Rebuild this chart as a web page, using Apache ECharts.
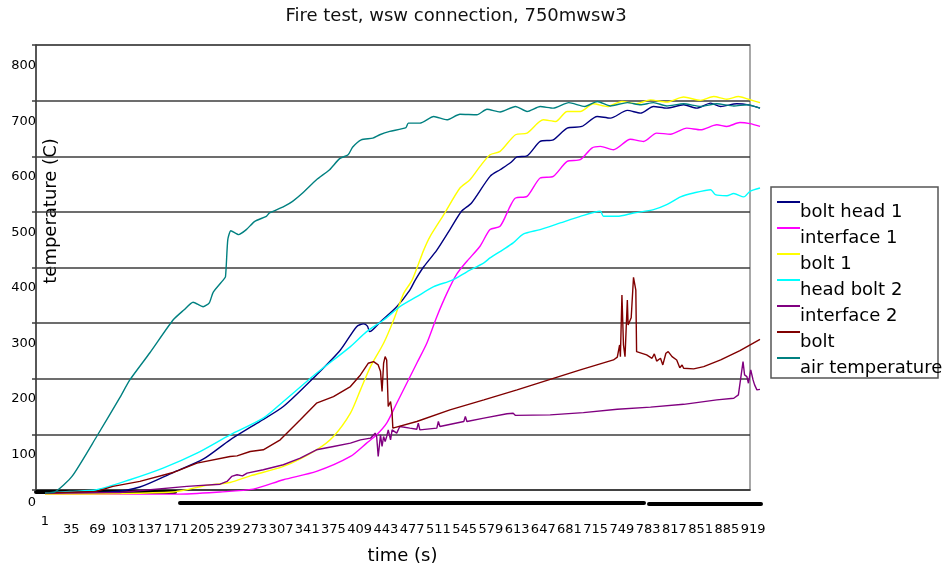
<!DOCTYPE html>
<html><head><meta charset="utf-8">
<script src="https://cdn.jsdelivr.net/npm/echarts@6/dist/echarts.min.js"></script>
<style>html,body{margin:0;padding:0;background:#fff}#c{width:948px;height:571px}</style>
</head><body><div id="c"></div>
<script>
const FONT = 'DejaVu Sans';
const titleText = 'Fire test, wsw connection, 750mwsw3';
const xName = 'time (s)';
const yName = 'temperature (C)';
const xLabelStep = 34;          // time labels 1, 35, 69 ... 919
const xMaxIndex = 927;          // last sample (time 928)
const yMax = 800, yStep = 100;  // tick labels 0 ... 800

const seriesNames = ['bolt head 1','interface 1','bolt 1','head bolt 2','interface 2','bolt','air temperature'];
const seriesColors = ['#000080','#FF00FF','#FFFF00','#00FFFF','#800080','#800000','#008080'];
const seriesSmooth = [0.25, 0.25, 0.25, 0.25, 0, 0, 0.2];

// [time (s), temperature]
const boltHead1 = [[1,30],[85,32],[124,41],[167,67],[206,91],[241,126],[276,156],[310,186],[353,243],[384,288],[405,330],[414,335],[419,331],[422,321],[436,339],[457,366],[474,396],[481,414],[492,438],[509,468],[526,505],[541,538],[554,553],[578,601],[591,613],[604,625],[613,636],[626,638],[643,664],[660,667],[678,688],[697,691],[717,709],[734,706],[756,720],[773,715],[790,727],[807,724],[829,730],[846,724],[864,733],[877,727],[898,732],[913,730],[928,724]];
const interface1 = [[1,28],[172,28],[228,32],[271,37],[310,54],[353,69],[397,96],[418,120],[431,135],[444,156],[457,192],[470,228],[483,264],[496,300],[509,348],[522,390],[535,425],[548,448],[565,475],[578,505],[591,511],[604,547],[611,562],[626,565],[643,598],[660,601],[678,628],[695,631],[710,652],[721,655],[738,649],[760,668],[777,664],[794,679],[812,677],[833,688],[851,685],[872,694],[885,691],[902,698],[915,696],[928,691]];
const bolt1 = [[1,28],[167,32],[211,44],[241,49],[267,61],[310,78],[353,108],[375,132],[397,174],[410,216],[423,258],[440,300],[453,342],[466,390],[477,414],[492,468],[500,492],[518,532],[539,580],[552,595],[565,619],[578,640],[591,646],[611,676],[626,679],[647,703],[663,700],[678,718],[695,718],[712,732],[730,727],[749,736],[768,732],[786,739],[807,735],[829,744],[851,738],[868,745],[885,740],[900,745],[913,740],[928,734]];
const headBolt2 = [[1,30],[33,33],[68,36],[111,54],[154,75],[198,102],[241,135],[284,165],[310,195],[353,246],[397,294],[418,321],[440,342],[461,366],[483,384],[505,402],[529,414],[548,429],[570,445],[578,454],[595,469],[608,481],[621,497],[643,505],[669,517],[695,529],[721,538],[725,529],[743,529],[764,535],[790,541],[807,550],[825,564],[842,571],[864,577],[870,568],[885,566],[894,570],[907,564],[915,574],[928,580]];
const interface2 = [[1,30],[98,31],[185,42],[228,46],[237,51],[243,60],[250,63],[257,61],[263,66],[284,72],[310,81],[332,93],[353,108],[375,114],[397,120],[410,126],[423,129],[429,138],[431,132],[433,96],[436,135],[438,114],[440,132],[442,123],[444,132],[446,144],[449,126],[451,144],[457,138],[461,150],[474,147],[483,145],[485,156],[487,144],[509,147],[511,159],[513,150],[544,159],[546,168],[548,159],[570,165],[600,173],[608,174],[611,170],[656,171],[699,175],[743,181],[786,185],[829,190],[872,198],[894,201],[900,207],[902,210],[906,267],[908,243],[911,240],[913,228],[916,252],[919,234],[921,225],[924,216],[928,217]];
const bolt = [[1,30],[68,33],[89,42],[124,51],[167,67],[198,84],[241,96],[250,97],[267,105],[284,108],[306,126],[332,162],[353,192],[375,204],[397,222],[410,243],[420,264],[427,267],[433,261],[436,249],[438,213],[440,264],[442,276],[444,270],[446,186],[449,195],[451,174],[452,147],[483,159],[526,180],[570,198],[613,216],[656,235],[695,252],[738,270],[743,275],[746,297],[747,276],[749,387],[751,297],[753,276],[756,378],[757,333],[761,346],[764,419],[767,396],[768,285],[781,279],[788,273],[791,281],[794,268],[799,273],[802,261],[806,282],[809,285],[814,276],[820,270],[824,256],[827,261],[829,255],[842,254],[855,258],[877,270],[902,287],[928,307]];
const airTemperature = [[1,30],[14,32],[36,60],[68,132],[98,202],[111,234],[137,283],[167,342],[181,360],[193,374],[206,366],[214,373],[219,392],[232,414],[235,420],[238,487],[242,503],[252,496],[262,505],[273,520],[288,529],[292,535],[311,547],[322,556],[335,571],[353,595],[370,613],[383,633],[394,640],[400,654],[411,667],[426,670],[435,676],[448,682],[469,689],[472,697],[487,697],[505,709],[522,703],[539,713],[561,712],[574,722],[591,717],[611,727],[626,718],[643,727],[660,724],[680,734],[701,727],[717,736],[734,728],[756,734],[773,730],[790,734],[807,728],[829,732],[851,727],[872,732],[894,728],[911,730],[928,724]];

const seriesData = [boltHead1, interface1, bolt1, headBolt2, interface2, bolt, airTemperature];

const chart = echarts.init(document.getElementById('c'), null, {renderer: 'canvas'});
const dark = '#3c3c3c';
const bandAxis = (gi) => ({gridIndex: gi, type: 'value', min: 0, max: 1,
  axisLine: {show: true, lineStyle: {color: '#000', width: 4, type: [2, 1]}},
  axisTick: {show: false}, axisLabel: {show: false}, splitLine: {show: false}});
const hiddenY = (gi) => ({gridIndex: gi, type: 'value', show: false});

chart.setOption({
  animation: false,
  backgroundColor: '#fff',
  title: {text: titleText, left: 456, top: 7, textAlign: 'center', padding: 0,
    textStyle: {fontSize: 18, fontWeight: 'normal', color: '#111', fontFamily: FONT}},
  grid: [
    {left: 36, top: 45, width: 714, height: 445, show: true, borderColor: '#8c8c8c', borderWidth: 1.5},
    {left: 45, top: 66, width: 715, height: 443.7},
    {left: 36, top: 488, width: 139, height: 4},
    {left: 180, top: 498.6, width: 465, height: 4},
    {left: 649, top: 499.9, width: 112, height: 4}
  ],
  xAxis: [
    {gridIndex: 0, type: 'value', min: 0, max: 1,
      axisLine: {show: true, onZero: false, lineStyle: {color: dark, width: 1.5}},
      axisTick: {show: false}, axisLabel: {show: false}, splitLine: {show: false}},
    {gridIndex: 1, type: 'value', min: 0, max: xMaxIndex, interval: xLabelStep,
      axisLine: {show: false}, axisTick: {show: false}, splitLine: {show: false},
      axisLabel: {margin: 5, color: '#000', fontSize: 13, fontFamily: FONT, hideOverlap: false,
        formatter: v => (v % xLabelStep !== 0) ? '' : (v === 0 ? '{f|1}' : '{n|' + (v + 1) + '}'),
        rich: {f: {fontSize: 13, fontFamily: FONT, color: '#000', padding: [0, 0, 0, 0]},
               n: {fontSize: 13, fontFamily: FONT, color: '#000', padding: [8, 0, 0, 0]}}},
      name: xName, nameLocation: 'middle', nameGap: 38,
      nameTextStyle: {fontSize: 18, color: '#000', fontFamily: FONT}},
    bandAxis(2), bandAxis(3), bandAxis(4)
  ],
  yAxis: [
    {gridIndex: 0, type: 'value', min: 0, max: 8, interval: 1,
      axisLine: {show: true, lineStyle: {color: dark, width: 1.5}},
      axisTick: {show: true, length: 4, lineStyle: {color: dark, width: 1.5}},
      axisLabel: {show: false},
      splitLine: {show: true, lineStyle: {color: dark, width: 1.5}}},
    {gridIndex: 1, type: 'value', min: 0, max: yMax, interval: yStep,
      axisLine: {show: false}, axisTick: {show: false}, splitLine: {show: false},
      axisLabel: {margin: 9, color: '#000', fontSize: 13, fontFamily: FONT,
        formatter: v => v === 0 ? '{z|0}' : '{n|' + v + '}',
        rich: {z: {fontSize: 13, fontFamily: FONT, color: '#000', padding: [0, 0, 15, 0]},
               n: {fontSize: 13, fontFamily: FONT, color: '#000'}}}},
    hiddenY(2), hiddenY(3), hiddenY(4)
  ],
  legend: {
    orient: 'vertical', left: 777, top: 201, padding: 0,
    itemWidth: 23, itemHeight: 22, itemGap: 4,
    icon: 'path://M0,0H23V2H0Z M0,21.99H0.01V22H0Z',
    itemStyle: {borderWidth: 0},
    textStyle: {fontSize: 18, color: '#000', fontFamily: FONT, padding: [0, 0, 0, -5]},
    data: seriesNames
  },
  graphic: [
    {type: 'rect', shape: {x: 771, y: 187, width: 167, height: 191},
      style: {fill: 'transparent', stroke: '#555', lineWidth: 1.5}, z: 1},
    {type: 'text', x: 51, y: 211, rotation: Math.PI / 2,
      style: {text: yName, font: '18px "DejaVu Sans"', fill: '#000', align: 'center', verticalAlign: 'middle'}}
  ],
  series: seriesNames.map((name, i) => ({
    name, type: 'line', xAxisIndex: 1, yAxisIndex: 1,
    symbol: 'none', color: seriesColors[i],
    smooth: seriesSmooth[i],
    lineStyle: {width: 1.4, color: seriesColors[i]},
    data: seriesData[i].map(p => [p[0] - 1, p[1]])
  }))
});
</script></body></html>
